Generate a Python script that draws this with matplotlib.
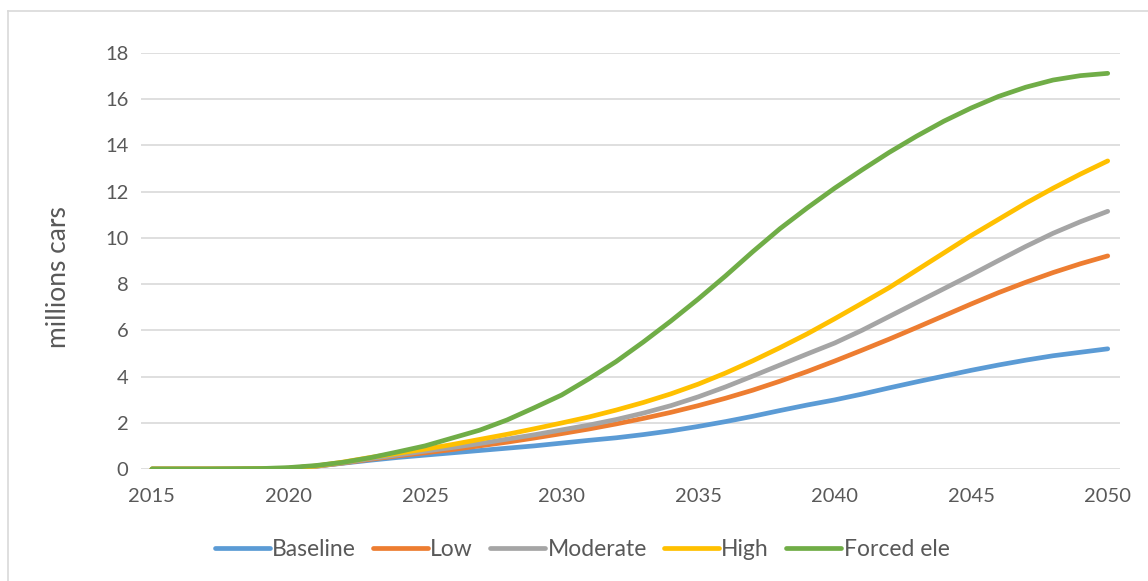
import matplotlib
matplotlib.use("Agg")
import matplotlib.pyplot as plt
from matplotlib.lines import Line2D

# EV fleet scenarios, millions of cars per year
years = list(range(2015, 2051))

baseline = [0, 0, 0, 0, 0.01, 0.03, 0.12, 0.25, 0.38, 0.5, 0.6, 0.7, 0.8, 0.9, 1.0, 1.12,
            1.24, 1.35, 1.49, 1.65, 1.84, 2.05, 2.28, 2.53, 2.77, 2.99,
            3.24, 3.51, 3.77, 4.02, 4.27, 4.5, 4.71, 4.9, 5.05, 5.2]
low = [0, 0, 0, 0, 0.01, 0.03, 0.12, 0.26, 0.42, 0.57, 0.7, 0.84, 1.0, 1.16, 1.34, 1.53,
       1.73, 1.95, 2.19, 2.45, 2.74, 3.06, 3.41, 3.8, 4.22, 4.67,
       5.14, 5.62, 6.12, 6.63, 7.14, 7.63, 8.08, 8.5, 8.88, 9.22]
moderate = [0, 0, 0, 0, 0.01, 0.03, 0.12, 0.27, 0.45, 0.61, 0.77, 0.93, 1.1, 1.29, 1.48, 1.69,
            1.9, 2.14, 2.42, 2.74, 3.12, 3.55, 4.02, 4.5, 4.98, 5.45,
            6.0, 6.6, 7.2, 7.8, 8.4, 9.02, 9.63, 10.2, 10.7, 11.15]
high = [0, 0, 0, 0, 0.01, 0.03, 0.13, 0.3, 0.5, 0.68, 0.86, 1.06, 1.28, 1.5, 1.74, 1.99,
        2.25, 2.55, 2.88, 3.25, 3.67, 4.15, 4.68, 5.25, 5.85, 6.5,
        7.17, 7.85, 8.6, 9.35, 10.1, 10.8, 11.5, 12.15, 12.76, 13.33]
forced = [0, 0, 0, 0.01, 0.02, 0.06, 0.15, 0.29, 0.49, 0.74, 1.0, 1.34, 1.68, 2.12, 2.65, 3.2,
          3.9, 4.65, 5.5, 6.4, 7.35, 8.35, 9.4, 10.4, 11.3, 12.15,
          12.94, 13.7, 14.4, 15.05, 15.62, 16.12, 16.52, 16.83, 17.02, 17.12]

series = [
    ("Baseline", baseline, "#5B9BD5"),
    ("Low", low, "#ED7D31"),
    ("Moderate", moderate, "#A5A5A5"),
    ("High", high, "#FFC000"),
    ("Forced ele", forced, "#70AD47"),
]

y_ticks = list(range(0, 19, 2))
x_ticks = list(range(2015, 2051, 5))

plt.rcParams["font.family"] = ["Lato", "DejaVu Sans"]
text_color = "#595959"
grid_color = "#D9D9D9"

fig = plt.figure(figsize=(11.48, 5.81), dpi=100)
ax = fig.add_axes([141 / 1148, 1 - 469 / 581, (1120 - 141) / 1148, (469 - 53) / 581])

for name, vals, color in series:
    ax.plot(years, vals, color=color, lw=3.4, label=name,
            solid_capstyle="round", solid_joinstyle="round")

ax.set_xlim(2014.6, 2050.45)
ax.set_ylim(0, 18)
ax.set_yticks(y_ticks)
ax.set_xticks(x_ticks)
ax.yaxis.grid(True, color=grid_color, lw=1.2)
ax.set_axisbelow(True)
for s in ax.spines.values():
    s.set_visible(False)
ax.tick_params(length=0, labelsize=14.5, colors=text_color)
ax.tick_params(axis="y", pad=9)
ax.tick_params(axis="x", pad=14)

fig.text(58 / 1148, 1 - 277 / 581, "millions cars", rotation=90,
         ha="center", va="center", fontsize=19, color=text_color)

leg = fig.legend(loc="center", bbox_to_anchor=(582 / 1148, 1 - 550 / 581), ncol=5,
                 frameon=False, fontsize=16.5, handlelength=2.4, handletextpad=0.1,
                 columnspacing=0.75)
for t in leg.get_texts():
    t.set_color(text_color)

# chart area border
fig.add_artist(Line2D([8 / 1148, 1], [1 - 11 / 581, 1 - 11 / 581],
                      transform=fig.transFigure, color=grid_color, lw=1.2))
fig.add_artist(Line2D([8 / 1148, 8 / 1148], [0, 1 - 11 / 581],
                      transform=fig.transFigure, color=grid_color, lw=1.2))

fig.savefig("out.png", dpi=100)
